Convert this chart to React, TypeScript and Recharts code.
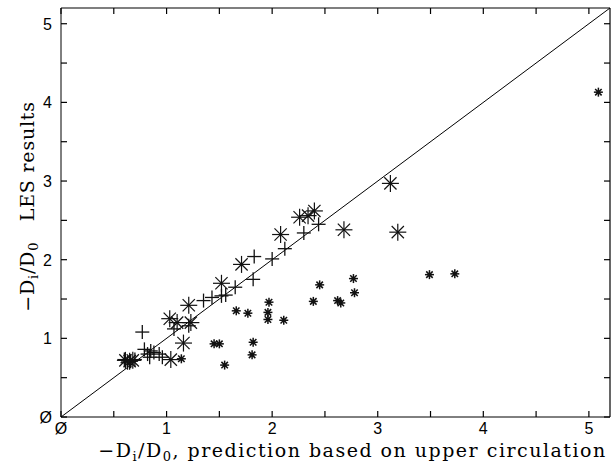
import { ScatterChart, Scatter, XAxis, YAxis, ReferenceLine } from "recharts"

// LES vs. prediction
const plusX = [0.6, 0.63, 0.66, 0.7, 0.77, 0.79, 0.82, 0.84, 0.85, 0.88, 0.93, 0.96, 1.07, 1.21, 1.35, 1.43, 1.52, 1.56, 1.65, 1.82, 1.83, 2.0, 2.12, 2.3, 2.44]
const plusY = [0.73, 0.69, 0.71, 0.73, 1.08, 0.86, 0.8, 0.76, 0.84, 0.82, 0.8, 0.76, 1.12, 1.16, 1.48, 1.52, 1.54, 1.55, 1.65, 1.75, 2.04, 2.01, 2.14, 2.34, 2.45]

const bigX = [0.61, 0.65, 0.68, 1.04, 1.16, 1.03, 1.1, 1.23, 1.21, 1.52, 1.71, 2.08, 2.26, 2.34, 2.4, 2.68, 3.12, 3.19]
const bigY = [0.72, 0.71, 0.72, 0.73, 0.94, 1.25, 1.2, 1.2, 1.42, 1.7, 1.94, 2.32, 2.54, 2.56, 2.62, 2.38, 2.97, 2.35]

const smallX = [1.14, 1.45, 1.5, 1.55, 1.66, 1.77, 1.82, 1.81, 1.97, 1.96, 1.96, 2.11, 2.39, 2.45, 2.62, 2.65, 2.77, 2.78, 3.49, 3.73, 5.09]
const smallY = [0.74, 0.93, 0.93, 0.66, 1.35, 1.32, 0.95, 0.79, 1.46, 1.33, 1.24, 1.23, 1.47, 1.68, 1.48, 1.45, 1.76, 1.58, 1.81, 1.82, 4.13]

const ticks = [0, 0.5, 1, 1.5, 2, 2.5, 3, 3.5, 4, 4.5, 5]
const MAX = 5.2

const zip = (xs: number[], ys: number[]) => xs.map((x, i) => ({ x, y: ys[i] }))
const plusData = zip(plusX, plusY)
const bigData = zip(bigX, bigY)
const smallData = zip(smallX, smallY)

const W = 616
const H = 470
const M = { top: 8, right: 6, left: 0, bottom: 0 }
const PLOT_TOP = M.top
const PLOT_RIGHT = W - M.right

const TICK_FONT = "'Liberation Sans', Arial, sans-serif"
const LABEL_FONT = "'DejaVu Serif', 'Liberation Serif', serif"
const TL = 6

const fmt = (v: number) => (v === 0 ? "Ø" : String(v))
const isMajor = (v: number) => Number.isInteger(v)

// bottom ticks, mirrored on the top frame edge (ticks point inward)
function BottomTick({ x, y, payload }: any) {
  const v = payload.value
  return (
    <g>
      <line x1={x} x2={x} y1={y} y2={y - TL} stroke="#000" strokeWidth={1.2} />
      <line x1={x} x2={x} y1={PLOT_TOP} y2={PLOT_TOP + TL} stroke="#000" strokeWidth={1.2} />
      {isMajor(v) && (
        <text x={x} y={y + 17} textAnchor="middle" fontFamily={TICK_FONT} fontSize={16} fill="#000">
          {fmt(v)}
        </text>
      )}
    </g>
  )
}

// left ticks, mirrored on the right frame edge
function LeftTick({ x, y, payload }: any) {
  const v = payload.value
  return (
    <g>
      <line x1={x} x2={x + TL} y1={y} y2={y} stroke="#000" strokeWidth={1.2} />
      <line x1={PLOT_RIGHT} x2={PLOT_RIGHT - TL} y1={y} y2={y} stroke="#000" strokeWidth={1.2} />
      {isMajor(v) && (
        <text x={x - 9} y={y + 6} textAnchor="end" fontFamily={TICK_FONT} fontSize={16} fill="#000">
          {fmt(v)}
        </text>
      )}
    </g>
  )
}

function XLabel({ viewBox }: any) {
  const cx = viewBox.x + viewBox.width / 2 + 17
  return (
    <text
      x={cx}
      y={viewBox.y + 40}
      textAnchor="middle"
      fontFamily={LABEL_FONT}
      fontSize={19}
      letterSpacing={1.5}
      fill="#000"
    >
      −D<tspan fontSize={13} dy={4}>i</tspan>
      <tspan dy={-4}>/D</tspan>
      <tspan fontSize={13} dy={4}>0</tspan>
      <tspan dy={-4}>, prediction based on upper circulation</tspan>
    </text>
  )
}

function YLabel({ viewBox }: any) {
  const cy = viewBox.y + viewBox.height / 2 - 6
  const cx = 34
  return (
    <text
      x={cx}
      y={cy}
      transform={`rotate(-90 ${cx} ${cy})`}
      textAnchor="middle"
      fontFamily={LABEL_FONT}
      fontSize={19}
      letterSpacing={0.8}
      fill="#000"
      xmlSpace="preserve"
    >
      −D<tspan fontSize={13} dy={4}>i</tspan>
      <tspan dy={-4}>/D</tspan>
      <tspan fontSize={13} dy={4}>0</tspan>
      <tspan dy={-4}>{"   LES results"}</tspan>
    </text>
  )
}

function PlusMark({ cx, cy }: any) {
  const r = 7
  return (
    <g stroke="#111" strokeWidth={1.3}>
      <line x1={cx - r} x2={cx + r} y1={cy} y2={cy} />
      <line x1={cx} x2={cx} y1={cy - r} y2={cy + r} />
    </g>
  )
}

function Asterisk({ cx, cy, r, w }: { cx: number; cy: number; r: number; w: number }) {
  const d = r * 0.72
  return (
    <g stroke="#111" strokeWidth={w}>
      <line x1={cx - r} x2={cx + r} y1={cy} y2={cy} />
      <line x1={cx} x2={cx} y1={cy - r} y2={cy + r} />
      <line x1={cx - d} x2={cx + d} y1={cy - d} y2={cy + d} />
      <line x1={cx - d} x2={cx + d} y1={cy + d} y2={cy - d} />
    </g>
  )
}

const BigMark = ({ cx, cy }: any) => <Asterisk cx={cx} cy={cy} r={8.5} w={1.2} />
const SmallMark = ({ cx, cy }: any) => (
  <g>
    <Asterisk cx={cx} cy={cy} r={4.5} w={1.5} />
    <circle cx={cx} cy={cy} r={2} fill="#111" />
  </g>
)

export default function App() {
  return (
    <div style={{ position: "absolute", left: 0, top: 0, background: "#fff" }}>
      <ScatterChart width={W} height={H} margin={M}>
        <XAxis
          type="number"
          dataKey="x"
          domain={[0, MAX]}
          ticks={ticks}
          interval={0}
          tickSize={0}
          tickMargin={0}
          tickLine={false}
          height={53}
          stroke="#000"
          tick={<BottomTick />}
          label={<XLabel />}
        />
        <YAxis
          type="number"
          dataKey="y"
          domain={[0, MAX]}
          ticks={ticks}
          interval={0}
          tickSize={0}
          tickMargin={0}
          tickLine={false}
          width={61}
          stroke="#000"
          tick={<LeftTick />}
          label={<YLabel />}
        />
        {/* frame: top and right edges */}
        <ReferenceLine y={MAX} stroke="#000" strokeWidth={1.2} />
        <ReferenceLine x={MAX} stroke="#000" strokeWidth={1.2} />
        <ReferenceLine
          segment={[
            { x: 0, y: 0 },
            { x: MAX, y: MAX },
          ]}
          stroke="#000"
          strokeWidth={1}
        />
        <Scatter data={plusData} shape={<PlusMark />} isAnimationActive={false} />
        <Scatter data={bigData} shape={<BigMark />} isAnimationActive={false} />
        <Scatter data={smallData} shape={<SmallMark />} isAnimationActive={false} />
      </ScatterChart>
    </div>
  )
}
